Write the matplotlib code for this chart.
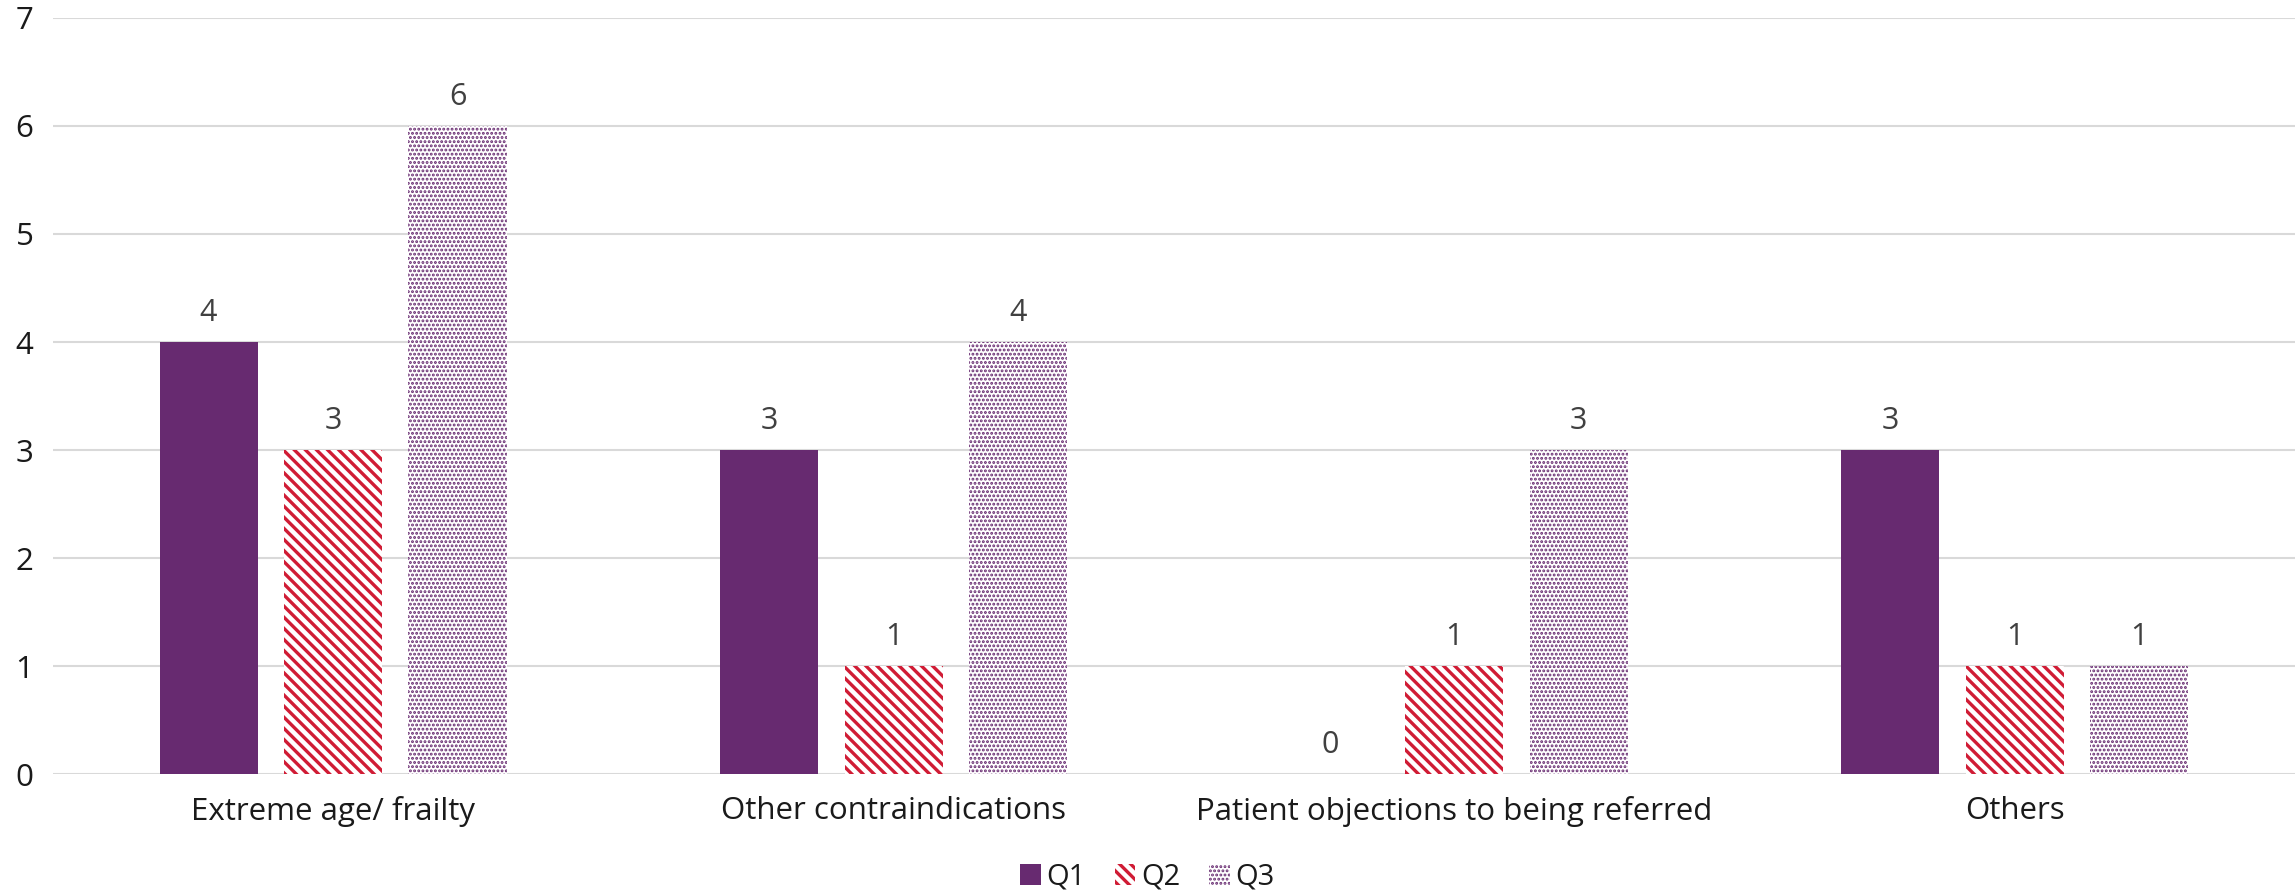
import numpy as np
import matplotlib as mpl
import matplotlib.pyplot as plt
from matplotlib.patches import Patch

categories = ["Extreme age/ frailty", "Other contraindications",
              "Patient objections to being referred", "Others"]
q1 = [4, 3, 0, 3]
q2 = [3, 1, 1, 1]
q3 = [6, 4, 3, 1]

purple = "#672A70"
red = "#D01C35"
DOT_LW = 1.4

plt.rcParams['font.family'] = ['Open Sans', 'DejaVu Sans']
plt.rcParams['hatch.linewidth'] = 2.4


def thin_hatch(patches, lw=DOT_LW):
    # dots need a much thinner hatch line than the stripes
    for p in patches:
        if hasattr(p, "set_hatch_linewidth"):
            p.set_hatch_linewidth(lw)


fig = plt.figure(figsize=(22.95, 8.94), dpi=100)
ax = fig.add_axes([0.023, 0.134, 0.977, 0.846])

x = np.arange(len(categories))
w = 0.175
off = 0.222

b1 = ax.bar(x - off, q1, w, color=purple, label="Q1", zorder=3)
b2 = ax.bar(x, q2, w, facecolor="white", edgecolor=red, hatch="\\\\\\",
            linewidth=0, label="Q2", zorder=3)
with mpl.rc_context({'hatch.linewidth': DOT_LW}):
    b3 = ax.bar(x + off, q3, w, facecolor="white", edgecolor=purple, hatch="....",
                linewidth=0, label="Q3", zorder=3)
thin_hatch(b3)

for b in (b1, b2, b3):
    ax.bar_label(b, padding=10, fontsize=22, color="#404040")

ax.set_xlim(-0.5, 3.5)
ax.set_ylim(0, 7)
ax.set_yticks(range(0, 8))
ax.yaxis.grid(True, color="#D9D9D9", linewidth=1.5, zorder=0)
ax.set_axisbelow(True)
for s in ax.spines.values():
    s.set_visible(False)
ax.tick_params(axis="both", length=0, labelsize=22.5, labelcolor="#1a1a1a")
ax.tick_params(axis="y", pad=14)
ax.tick_params(axis="x", pad=16)
ax.set_xticks(x)
ax.set_xticklabels(categories)

h1 = Patch(facecolor=purple, label="Q1")
h2 = Patch(facecolor="white", edgecolor=red, hatch="\\\\\\", linewidth=0, label="Q2")
with mpl.rc_context({'hatch.linewidth': DOT_LW}):
    h3 = Patch(facecolor="white", edgecolor=purple, hatch="....", linewidth=0, label="Q3")
thin_hatch([h3])
leg = fig.legend(handles=[h1, h2, h3], loc="lower center", bbox_to_anchor=(0.5, -0.027),
                 ncol=3, frameon=False, fontsize=21, handlelength=0.7, handleheight=0.7,
                 handletextpad=0.2, columnspacing=1.0, labelcolor="#1a1a1a")
thin_hatch(leg.get_patches()[2:])

fig.savefig("out.png", dpi=100)
